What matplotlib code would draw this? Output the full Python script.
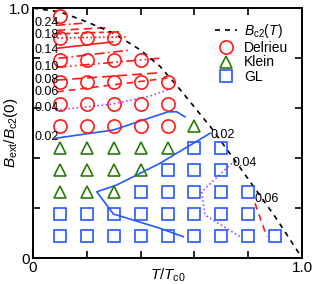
import numpy as np
import matplotlib
matplotlib.use("Agg")
import matplotlib.pyplot as plt

plt.rcParams['font.family'] = ['Liberation Sans', 'DejaVu Sans']
plt.rcParams['mathtext.fontset'] = 'custom'
plt.rcParams['mathtext.rm'] = 'Liberation Sans'
plt.rcParams['mathtext.it'] = 'Liberation Sans:italic'

# upper critical field curve
bc2_T = [0.0, 0.1, 0.2, 0.3, 0.4, 0.472, 0.55, 0.664, 0.776, 0.9, 1.0]
bc2_B = [1.0, 0.985, 0.945, 0.899, 0.832, 0.767, 0.67, 0.519, 0.352, 0.165, 0.0]

# simulated points
delrieu_T = [0.1,
             0.1, 0.2, 0.3,
             0.1, 0.2, 0.3, 0.4,
             0.1, 0.2, 0.3, 0.4, 0.5,
             0.1, 0.2, 0.3, 0.4, 0.5,
             0.1, 0.2, 0.3, 0.4, 0.5]
delrieu_B = [0.968,
             0.880, 0.880, 0.880,
             0.792, 0.792, 0.792, 0.792,
             0.704, 0.704, 0.704, 0.704, 0.704,
             0.616, 0.616, 0.616, 0.616, 0.616,
             0.528, 0.528, 0.528, 0.528, 0.528]

klein_T = [0.6,
           0.1, 0.2, 0.3, 0.4, 0.5,
           0.1, 0.2, 0.3, 0.4,
           0.1, 0.2, 0.3]
klein_B = [0.528,
           0.440, 0.440, 0.440, 0.440, 0.440,
           0.352, 0.352, 0.352, 0.352,
           0.264, 0.264, 0.264]

gl_T = [0.6, 0.7,
        0.5, 0.6, 0.7,
        0.4, 0.5, 0.6, 0.7, 0.8,
        0.1, 0.2, 0.3, 0.4, 0.5, 0.6, 0.7, 0.8,
        0.1, 0.2, 0.3, 0.4, 0.5, 0.6, 0.7, 0.8, 0.9]
gl_B = [0.440, 0.440,
        0.352, 0.352, 0.352,
        0.264, 0.264, 0.264, 0.264, 0.264,
        0.176, 0.176, 0.176, 0.176, 0.176, 0.176, 0.176, 0.176,
        0.088, 0.088, 0.088, 0.088, 0.088, 0.088, 0.088, 0.088, 0.088]

# contour lines (upper left family)
c24_T = [0.09, 0.19];   c24_B = [0.931, 0.940]
c22_T = [0.09, 0.28];   c22_B = [0.911, 0.922]
c18_T = [0.09, 0.32];   c18_B = [0.897, 0.905]
c16_T = [0.09, 0.35];   c16_B = [0.880, 0.885]
c14_T = [0.088, 0.297]; c14_B = [0.839, 0.865]
c12_T = [0.094, 0.36];  c12_B = [0.799, 0.832]
c10_T = [0.088, 0.47];  c10_B = [0.763, 0.799]
c08_T = [0.09, 0.48];   c08_B = [0.712, 0.742]
c06_T = [0.09, 0.50];   c06_B = [0.665, 0.720]
c04_T = [0.085, 0.297, 0.435, 0.52]
c04_B = [0.592, 0.616, 0.648, 0.680]
c02_T = [0.082, 0.298, 0.39, 0.502, 0.534, 0.565]
c02_B = [0.479, 0.512, 0.545, 0.585, 0.585, 0.565]

# contour lines (lower right family)
d06_T = [0.825, 0.869]; d06_B = [0.219, 0.085]
d04_T = [0.739, 0.627, 0.639, 0.770]
d04_B = [0.379, 0.265, 0.172, 0.085]
d02_T = [0.658, 0.472, 0.311, 0.237, 0.299, 0.472, 0.559]
d02_B = [0.499, 0.379, 0.292, 0.265, 0.176, 0.119, 0.085]

left_labels = ["0.24", "0.18", "0.14", "0.10", "0.08", "0.06", "0.04", "0.02"]
left_label_B = [0.940, 0.892, 0.832, 0.764, 0.712, 0.664, 0.600, 0.484]
right_labels = ["0.02", "0.04", "0.06"]
right_label_T = [0.658, 0.743, 0.825]
right_label_B = [0.492, 0.380, 0.236]

red = "#ff1a1a"
purple = "#a64dff"
blue = "#2459ff"
green = "#2a7a0a"

fig = plt.figure(figsize=(3.14, 2.84), dpi=100)
ax = fig.add_axes([0.105, 0.0915, 0.857, 0.880])

lw = 1.2
ax.plot(c24_T, c24_B, color=red, lw=lw, ls=(0, (5, 2, 1, 2)))
ax.plot(c22_T, c22_B, color=red, lw=lw, ls=(0, (5, 3)))
ax.plot(c18_T, c18_B, color=red, lw=lw, ls=(0, (3, 2)))
ax.plot(c16_T, c16_B, color=red, lw=lw, ls=(0, (1, 1.5)))
ax.plot(c14_T, c14_B, color=red, lw=lw, ls="-")
ax.plot(c12_T, c12_B, color=red, lw=lw, ls=(0, (6, 2, 1, 2)))
ax.plot(c10_T, c10_B, color=red, lw=lw, ls=(0, (6, 2, 1, 2, 1, 2)))
ax.plot(c08_T, c08_B, color=red, lw=lw, ls=(0, (6, 3)))
ax.plot(c06_T, c06_B, color=red, lw=lw, ls=(0, (4, 3)))
ax.plot(c04_T, c04_B, color=purple, lw=lw, ls=(0, (1, 1.5)))
ax.plot(c02_T, c02_B, color=blue, lw=lw, ls="-")
ax.plot(d06_T, d06_B, color=red, lw=lw, ls=(0, (4, 3)))
ax.plot(d04_T, d04_B, color=purple, lw=lw, ls=(0, (1, 1.5)))
ax.plot(d02_T, d02_B, color=blue, lw=lw, ls="-")

ax.plot(bc2_T, bc2_B, color="black", lw=1.2, ls=(0, (3, 3)), label=r"$B_{\rm c2}$($T$)")
ms = 9
ax.plot(delrieu_T, delrieu_B, "o", ms=ms + 0.5, mfc="none", mec=red, mew=1.2, label="Delrieu")
ax.plot(klein_T, klein_B, "^", ms=ms, mfc="none", mec=green, mew=1.2, label="Klein")
ax.plot(gl_T, gl_B, "s", ms=ms - 0.5, mfc="none", mec=blue, mew=1.2, label="GL")

for lab, b in zip(left_labels, left_label_B):
    ax.text(0.004, b, lab, fontsize=9, ha="left", va="center")
for lab, t, b in zip(right_labels, right_label_T, right_label_B):
    ax.text(t, b, lab, fontsize=9, ha="left", va="center")

ax.set_xlim(0, 1)
ax.set_ylim(0, 1)
ax.set_xticks([0, 0.2, 0.4, 0.6, 0.8, 1.0])
ax.set_xticklabels(["0", "", "", "", "", "1.0"])
ax.set_yticks([0, 0.2, 0.4, 0.6, 0.8, 1.0])
ax.set_yticklabels(["0", "", "", "", "", "1.0"])
ax.tick_params(direction="in", top=True, right=True, length=5, width=1.2, labelsize=11, pad=2)
for s in ax.spines.values():
    s.set_linewidth(1.4)

ax.set_xlabel(r"$T/T_{\rm c0}$", fontsize=11, labelpad=-6)
ax.set_ylabel(r"$B_{\rm ext}/B_{\rm c2}(0)$", fontsize=11, labelpad=-8)

ax.legend(loc="upper right", frameon=False, fontsize=10, handlelength=1.6,
          handletextpad=0.5, labelspacing=0.05, borderaxespad=0.6)

fig.savefig("out.png", dpi=100)
